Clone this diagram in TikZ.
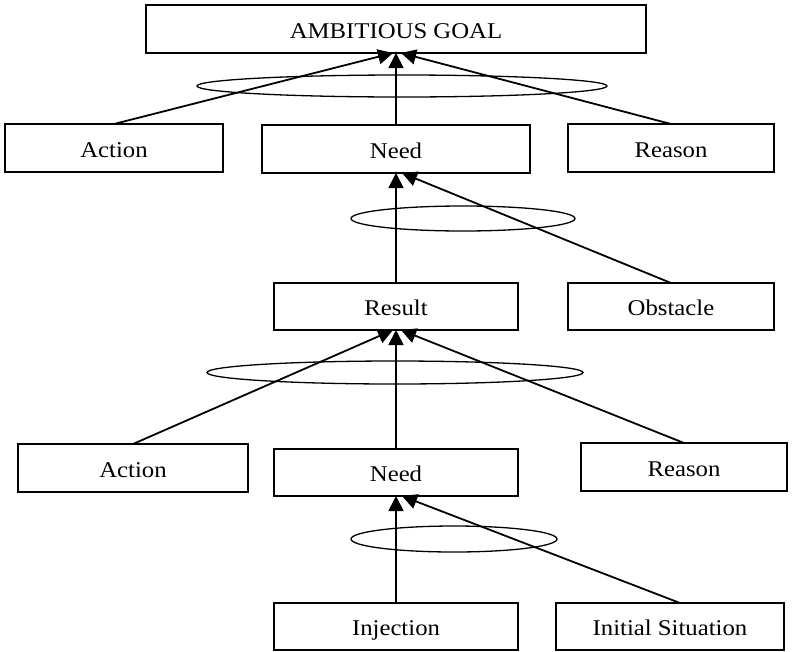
\documentclass[tikz,border=0pt]{standalone}
\usepackage{fontspec}
\setmainfont{Liberation Serif}[FakeStretch=1.1]
\usetikzlibrary{arrows.meta}
\begin{document}
\begin{tikzpicture}[x=1pt,y=-1pt,
  box/.style={draw, line width=1.3pt, inner sep=0pt, outer sep=0pt,
    text height=18pt, text depth=0pt, font=\fontsize{22.5}{26}\selectfont},
  arr/.style={line width=1.8pt, -{Triangle[length=15pt,width=15pt]}},
  loop/.style={line width=1.3pt}]
\useasboundingbox (0,0) rectangle (799,651);

\node[box, minimum width=500pt, minimum height=48pt] (goal) at (396,29) {AMBITIOUS GOAL};
\node[box, minimum width=268pt, minimum height=48pt] (n1) at (396,149) {Need};
\node[box, minimum width=218pt, minimum height=48pt] (a1) at (114,148) {Action};
\node[box, minimum width=206pt, minimum height=48pt] (r1) at (671,148) {Reason};
\node[box, minimum width=244pt, minimum height=47pt] (res) at (396,306.5) {Result};
\node[box, minimum width=206pt, minimum height=47pt] (obs) at (671,306.5) {Obstacle};
\node[box, minimum width=230pt, minimum height=48pt] (a2) at (133,468) {Action};
\node[box, minimum width=244pt, minimum height=47pt] (n2) at (396,472.5) {Need};
\node[box, minimum width=206pt, minimum height=48pt] (r2) at (684,467) {Reason};
\node[box, minimum width=244pt, minimum height=47pt] (inj) at (396,626.5) {Injection};
\node[box, minimum width=228pt, minimum height=47pt] (init) at (670,626.5) {Initial Situation};

\draw[loop] (402,86) ellipse [x radius=205pt, y radius=11pt];
\draw[loop] (463,218.5) ellipse [x radius=112pt, y radius=12.5pt];
\draw[loop] (395,372.5) ellipse [x radius=188pt, y radius=11.5pt];
\draw[loop] (454,539) ellipse [x radius=103pt, y radius=13pt];

\draw[arr] (a1.north) -- ([xshift=-3pt]goal.south);
\draw[arr] (n1.north) -- (goal.south);
\draw[arr] (r1.north) -- ([xshift=5pt]goal.south);

\draw[arr] (res.north) -- (n1.south);
\draw[arr] (obs.north) -- ([xshift=6pt]n1.south);

\draw[arr] (a2.north) -- ([xshift=-3pt]res.south);
\draw[arr] (n2.north) -- (res.south);
\draw[arr] (r2.north) -- ([xshift=5pt]res.south);

\draw[arr] (inj.north) -- (n2.south);
\draw[arr] ([xshift=10pt]init.north) -- ([xshift=6pt]n2.south);
\end{tikzpicture}
\end{document}
